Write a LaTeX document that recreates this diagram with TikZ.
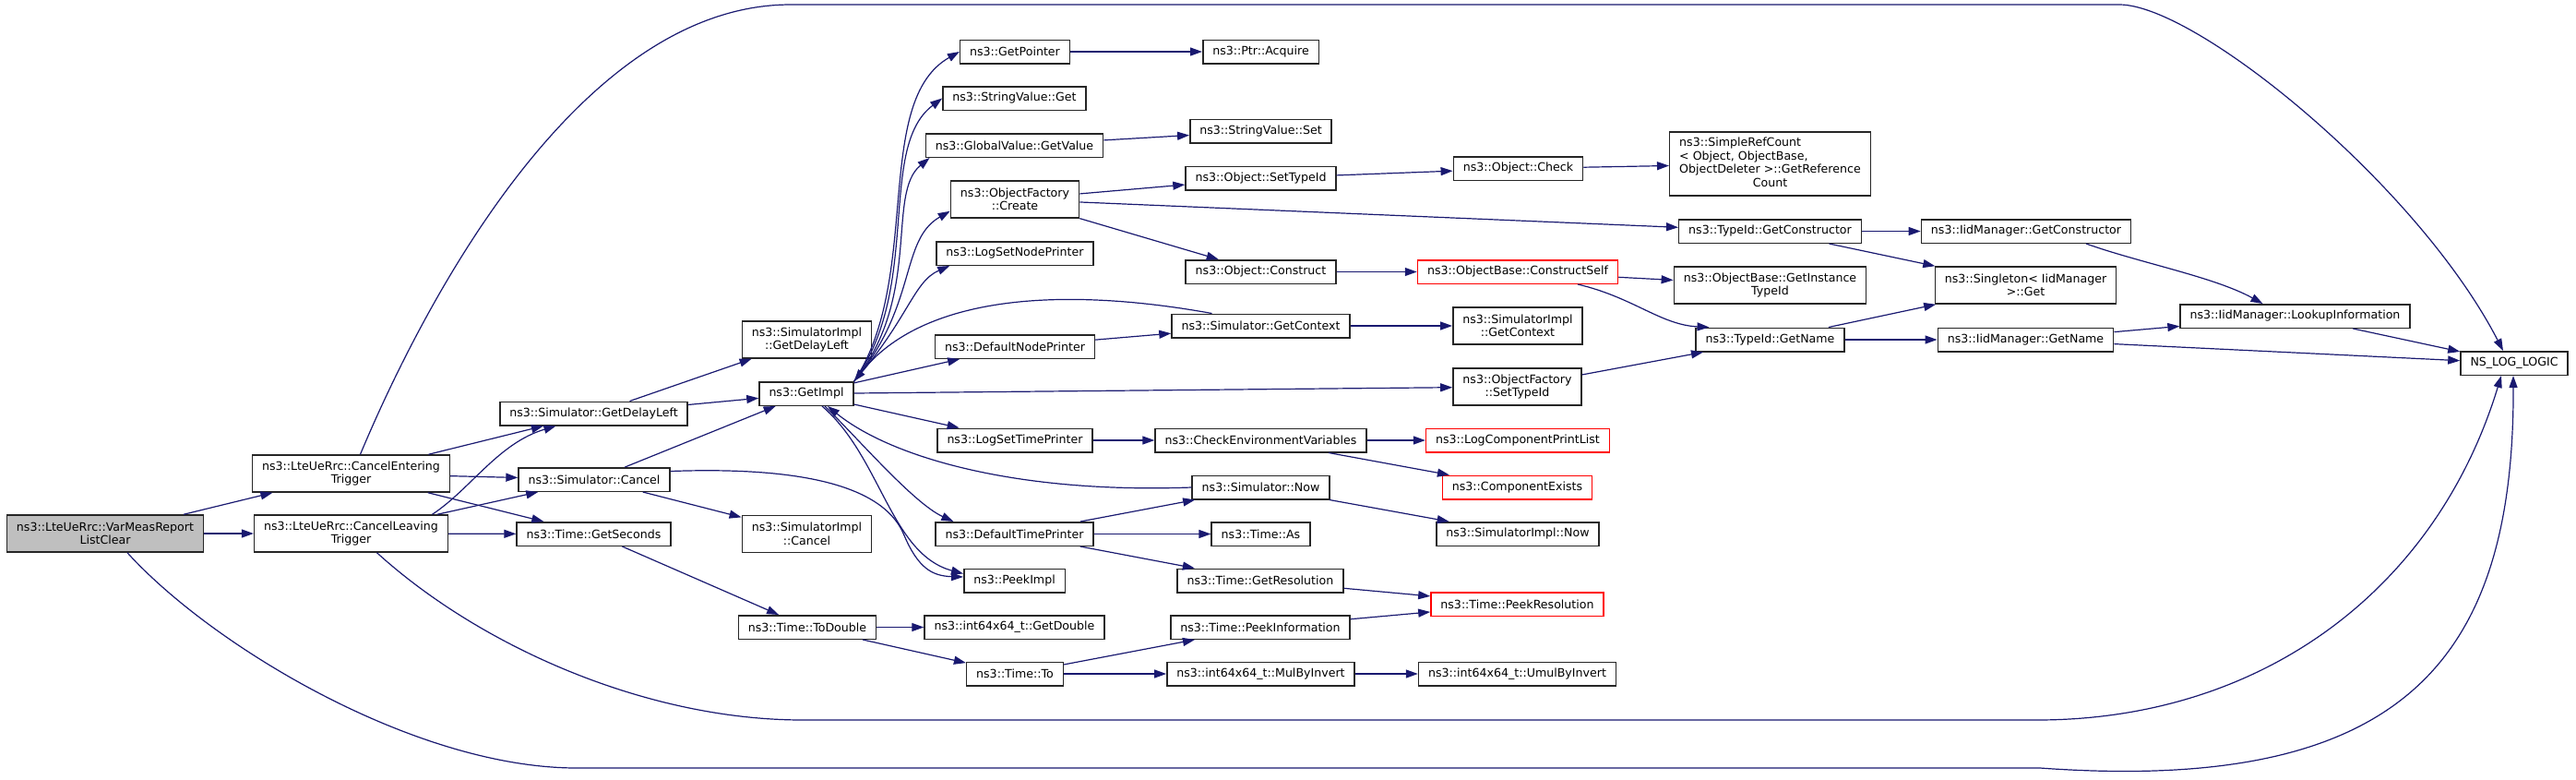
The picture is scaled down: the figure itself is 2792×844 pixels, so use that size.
\documentclass[tikz,border=0pt]{standalone}
\usepackage{fontspec}
\setmainfont{DejaVu Sans}
\usetikzlibrary{arrows.meta}
\definecolor{edgeblue}{HTML}{191970}
\definecolor{mainfill}{HTML}{BFBFBF}
\newcommand{\fnfont}{\fontsize{12.6}{14.5}\selectfont}

\begin{document}
\begin{tikzpicture}[x=1pt,y=-1pt,
    fn/.style={draw=black!85, fill=white, line width=1.5pt, inner xsep=10.5pt, inner ysep=2pt,
      minimum height=25.5pt, align=center, font=\fnfont},
    fntwo/.style={fn, minimum height=40pt},
    fnred/.style={fn, draw=red},
    call/.style={draw=edgeblue, line width=1.2pt, -{Triangle[length=13pt,width=9pt]}}]
\useasboundingbox (0,0) rectangle (2792,844);
% columna 1 y 2
\node[fntwo, fill=mainfill] (main) at (114,578) {ns3::LteUeRrc::VarMeasReport\\ListClear};
\node[fntwo] (entering) at (380.5,513) {ns3::LteUeRrc::CancelEntering\\Trigger};
\node[fntwo] (leaving) at (380.5,578) {ns3::LteUeRrc::CancelLeaving\\Trigger};
% columna 3
\node[fn] (delayleft) at (643.5,448) {ns3::Simulator::GetDelayLeft};
\node[fn] (cancel) at (644,519.5) {ns3::Simulator::Cancel};
\node[fn] (getseconds) at (643.5,578.5) {ns3::Time::GetSeconds};
% columna 4
\node[fntwo] (impldelay) at (874.5,368) {ns3::SimulatorImpl\\::GetDelayLeft};
\node[fn] (getimpl) at (874,426.5) {ns3::GetImpl};
\node[fntwo] (implcancel) at (874.5,578.5) {ns3::SimulatorImpl\\::Cancel};
\node[fn] (todouble) at (875,679.5) {ns3::Time::ToDouble};
% columna 5
\node[fn] (getpointer) at (1100,56) {ns3::GetPointer};
\node[fn] (svget) at (1099.5,106.5) {ns3::StringValue::Get};
\node[fn] (gvget) at (1099.5,157.5) {ns3::GlobalValue::GetValue};
\node[fntwo] (ofcreate) at (1100,216) {ns3::ObjectFactory\\::Create};
\node[fn] (lognode) at (1100,274.5) {ns3::LogSetNodePrinter};
\node[fn] (defnode) at (1100,375.5) {ns3::DefaultNodePrinter};
\node[fn] (logtime) at (1100,477) {ns3::LogSetTimePrinter};
\node[fn] (deftime) at (1099.5,578.5) {ns3::DefaultTimePrinter};
\node[fn] (peekimpl) at (1099.5,629) {ns3::PeekImpl};
\node[fn] (getdouble) at (1099.5,679.5) {ns3::int64x64\_t::GetDouble};
\node[fn] (timeto) at (1100,730) {ns3::Time::To};
% columna 6
\node[fn] (acquire) at (1366.5,56) {ns3::Ptr::Acquire};
\node[fn] (svset) at (1366.5,142) {ns3::StringValue::Set};
\node[fn] (objsettype) at (1366.5,193) {ns3::Object::SetTypeId};
\node[fn] (construct) at (1366.5,294.5) {ns3::Object::Construct};
\node[fn] (getcontext) at (1366.5,353) {ns3::Simulator::GetContext};
\node[fn] (checkenv) at (1366.5,477) {ns3::CheckEnvironmentVariables};
\node[fn] (now) at (1366.5,528) {ns3::Simulator::Now};
\node[fn] (timeas) at (1366.5,578.5) {ns3::Time::As};
\node[fn] (getres) at (1366,629) {ns3::Time::GetResolution};
\node[fn] (peekinfo) at (1366,679.5) {ns3::Time::PeekInformation};
\node[fn] (mulinv) at (1366.5,730) {ns3::int64x64\_t::MulByInvert};
% columna 7
\node[fn] (check) at (1645.5,182.5) {ns3::Object::Check};
\node[fnred] (constructself) at (1645,294.5) {ns3::ObjectBase::ConstructSelf};
\node[fntwo] (implcontext) at (1645,353) {ns3::SimulatorImpl\\::GetContext};
\node[fntwo] (ofsettype) at (1644.5,419) {ns3::ObjectFactory\\::SetTypeId};
\node[fnred] (logprint) at (1645,477) {ns3::LogComponentPrintList};
\node[fnred] (compexists) at (1644.5,528) {ns3::ComponentExists};
\node[fn] (implnow) at (1645,578.5) {ns3::SimulatorImpl::Now};
\node[fnred] (peekres) at (1644.5,654.5) {ns3::Time::PeekResolution};
\node[fn] (umulinv) at (1644.5,730) {ns3::int64x64\_t::UmulByInvert};
% columna 8 a 11
\node[fn, minimum height=69pt] (refcount) at (1918.5,177.5) {\begin{tabular}{@{}l@{}}ns3::SimpleRefCount\\< Object, ObjectBase,\\ObjectDeleter >::GetReference\\\multicolumn{1}{@{}c@{}}{Count}\end{tabular}};
\node[fn] (getctor) at (1918.5,250.5) {ns3::TypeId::GetConstructor};
\node[fntwo] (insttype) at (1918.5,309) {ns3::ObjectBase::GetInstance\\TypeId};
\node[fn] (tname) at (1918.5,368) {ns3::TypeId::GetName};
\node[fn] (iidctor) at (2196,250.5) {ns3::IidManager::GetConstructor};
\node[fntwo] (singleton) at (2195.5,309) {ns3::Singleton< IidManager\\>::Get};
\node[fn] (iidname) at (2195.5,368) {ns3::IidManager::GetName};
\node[fn] (lookup) at (2487.5,342.5) {ns3::IidManager::LookupInformation};
\node[fn] (nslog) at (2725,393.5) {NS\_LOG\_LOGIC};
% llamadas rectas
\foreach \a/\b in {main/entering, main/leaving, entering/delayleft, entering/cancel,
    entering/getseconds, leaving/cancel, leaving/getseconds, delayleft/impldelay,
    delayleft/getimpl, cancel/getimpl, cancel/implcancel, getseconds/todouble,
    getimpl/defnode, getimpl/ofsettype, getimpl/logtime, getpointer/acquire,
    gvget/svset, ofcreate/objsettype, ofcreate/getctor, ofcreate/construct,
    objsettype/check, check/refcount, construct/constructself, constructself/insttype,
    getctor/iidctor, getctor/singleton, tname/singleton, tname/iidname,
    iidname/lookup, iidname/nslog, lookup/nslog, defnode/getcontext,
    getcontext/implcontext, ofsettype/tname, logtime/checkenv, checkenv/logprint,
    checkenv/compexists, deftime/now, deftime/timeas, deftime/getres, now/implnow,
    getres/peekres, peekinfo/peekres, todouble/getdouble, todouble/timeto,
    timeto/peekinfo, timeto/mulinv, mulinv/umulinv}
  \draw[call] (\a) -- (\b);
% arcos largos a NS_LOG_LOGIC
\draw[call] ([xshift=10pt]entering.north) .. controls (450,350) and (620,5) .. (857,5)
  -- (2297,5) .. controls (2380,5) and (2620,200) .. ([xshift=-12pt]nslog.north);
\draw[call] ([xshift=24pt]main.south) .. controls (230,700) and (450,832) .. (625,832)
  -- (2211,832) .. controls (2600,860) and (2725,720) .. ([xshift=-1pt]nslog.south);
\draw[call] ([xshift=28pt]leaving.south) .. controls (520,700) and (700,780) .. (870,780)
  -- (2205,780) .. controls (2450,781) and (2640,640) .. ([xshift=-14pt]nslog.south);
% curvas cortas
\draw[call] ([xshift=88pt]leaving.north) .. controls (510,530) and (540,480) .. ([xshift=-41pt]delayleft.south);
\draw[call] ([yshift=9pt]cancel.east) .. controls (880,505) and (960,530) .. (980,580)
  .. controls (995,615) and (1010,624) .. ([yshift=4pt]peekimpl.west);
\draw[call] (getimpl.north east) .. controls (1000,300) and (945,110) .. (getpointer.west);
\draw[call] (getimpl.north east) .. controls (1000,310) and (950,160) .. (svget.west);
\draw[call] (getimpl.north east) .. controls (1000,320) and (960,210) .. ([xshift=5pt]gvget.south west);
\draw[call] (getimpl.north east) .. controls (995,330) and (975,260) .. ([yshift=8pt]ofcreate.south west);
\draw[call] (getimpl.north east) .. controls (985,345) and (990,305) .. ([xshift=15pt]lognode.south west);
\draw[call] ([xshift=-53pt]getcontext.north) .. controls (1150,310) and (1000,320) .. (getimpl.north east);
\draw[call] (now.west) .. controls (1100,535) and (965,495) .. ([xshift=23pt]getimpl.south);
\draw[call] ([xshift=20pt]getimpl.south) .. controls (930,475) and (990,545) .. ([xshift=20pt]deftime.north west);
\draw[call] ([xshift=17pt]getimpl.south) .. controls (955,495) and (965,600) .. ([yshift=-6pt]peekimpl.north west);
\draw[call] ([xshift=65pt]constructself.south) .. controls (1770,322) and (1800,352) .. ([xshift=-66pt]tname.north);
\draw[call] ([xshift=65pt]iidctor.south) .. controls (2320,285) and (2400,300) .. ([xshift=-35pt]lookup.north);
\end{tikzpicture}
\end{document}
